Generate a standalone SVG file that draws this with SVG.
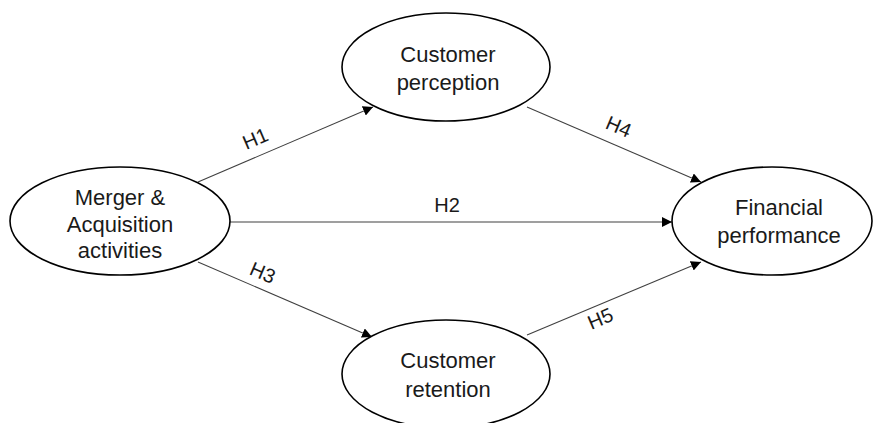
<svg xmlns="http://www.w3.org/2000/svg" width="877" height="423" viewBox="0 0 877 423">
<defs>
<style>
.node ellipse{fill:#fff;stroke:#000;stroke-width:1.6}
.node text{font-family:"Liberation Sans",Arial,sans-serif;font-size:22px;fill:#1a1a1a;text-anchor:middle}
.conn line{stroke:#404040;stroke-width:1.1;marker-end:url(#arr)}
.lbl{font-family:"Liberation Sans",Arial,sans-serif;font-size:20px;fill:#1a1a1a;text-anchor:middle}
</style>
<marker id="arr" viewBox="0 0 10 10" refX="10" refY="5" markerWidth="10" markerHeight="10" markerUnits="userSpaceOnUse" orient="auto">
<path d="M0,0 L10,5 L0,10 z" fill="#000"/>
</marker>
</defs>
<rect width="877" height="423" fill="#fff"/>
<g class="conn" id="connectors">
<line x1="198" y1="182" x2="373" y2="107"/>
<line x1="527" y1="107" x2="701" y2="182"/>
<line x1="230" y1="222" x2="672" y2="222"/>
<line x1="198" y1="262" x2="372" y2="337"/>
<line x1="527" y1="335" x2="701" y2="262"/>
<text class="lbl" transform="translate(258,145) rotate(-23)">H1</text>
<text class="lbl" transform="translate(616,133) rotate(23)">H4</text>
<text class="lbl" x="447" y="212">H2</text>
<text class="lbl" transform="translate(260,279) rotate(23)">H3</text>
<text class="lbl" transform="translate(603,325) rotate(-23)">H5</text>
</g>
<g class="node" id="ma">
<ellipse cx="120" cy="221" rx="110" ry="54"/>
<text x="120" y="205">Merger &amp;</text>
<text x="120" y="232">Acquisition</text>
<text x="120" y="258">activities</text>
</g>
<g class="node" id="cp">
<ellipse cx="446" cy="67" rx="104" ry="54"/>
<text x="448" y="62">Customer</text>
<text x="448" y="90">perception</text>
</g>
<g class="node" id="fp">
<ellipse cx="772" cy="221" rx="100" ry="54"/>
<text x="779" y="215">Financial</text>
<text x="779" y="243">performance</text>
</g>
<g class="node" id="cr">
<ellipse cx="446" cy="374" rx="104" ry="54"/>
<text x="448" y="368">Customer</text>
<text x="448" y="397">retention</text>
</g>
</svg>
